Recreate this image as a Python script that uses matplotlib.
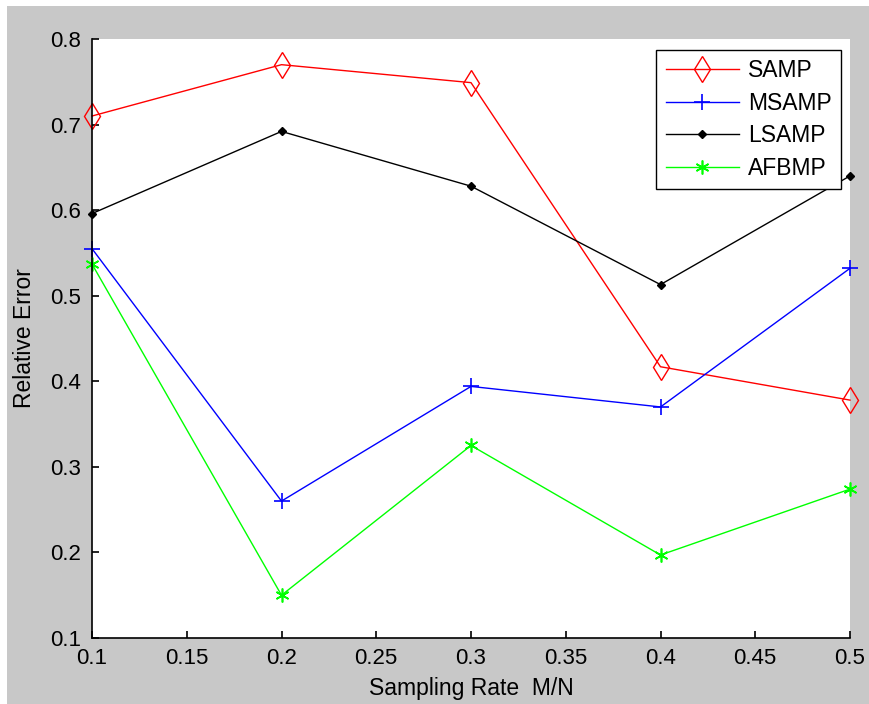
import matplotlib.pyplot as plt
from matplotlib.patches import Rectangle

plt.rcParams['font.family'] = ['Liberation Sans', 'DejaVu Sans']

# Data
rate = [0.1, 0.2, 0.3, 0.4, 0.5]
samp = [0.710, 0.770, 0.749, 0.417, 0.378]
msamp = [0.555, 0.260, 0.394, 0.370, 0.532]
lsamp = [0.596, 0.692, 0.628, 0.513, 0.640]
afbmp = [0.537, 0.150, 0.325, 0.197, 0.274]

x_ticks = [0.1, 0.15, 0.2, 0.25, 0.3, 0.35, 0.4, 0.45, 0.5]
x_tick_labels = ['0.1', '0.15', '0.2', '0.25', '0.3', '0.35', '0.4', '0.45', '0.5']
y_ticks = [0.1, 0.2, 0.3, 0.4, 0.5, 0.6, 0.7, 0.8]
y_tick_labels = ['0.1', '0.2', '0.3', '0.4', '0.5', '0.6', '0.7', '0.8']

W, H = 870, 704
fig = plt.figure(figsize=(W / 100, H / 100), dpi=100, facecolor='white')

# grey MATLAB-style figure background, thin white strip on top and left
fig.patches.append(Rectangle((7 / W, 0), 1, 1 - 6 / H, transform=fig.transFigure,
                             facecolor='#c8c8c8', edgecolor='none', zorder=-10))

ax = fig.add_axes([92 / W, (H - 638) / H, (850 - 92) / W, (638 - 39) / H])
ax.set_facecolor('white')

ax.plot(rate, samp, color='red', lw=1.0, marker='d', markersize=13,
        markerfacecolor='none', markeredgecolor='red', markeredgewidth=1.0, label='SAMP')
ax.plot(rate, msamp, color='blue', lw=1.0, marker='+', markersize=12,
        markeredgewidth=1.2, label='MSAMP')
ax.plot(rate, lsamp, color='black', lw=1.0, marker='D', markersize=4,
        label='LSAMP')
ax.plot(rate, afbmp, color='#00ff00', lw=1.0, marker=(6, 2, 0), markersize=10,
        markeredgewidth=1.2, label='AFBMP')

ax.set_xlim(0.1, 0.5)
ax.set_ylim(0.1, 0.8)
ax.set_xticks(x_ticks)
ax.set_xticklabels(x_tick_labels)
ax.set_yticks(y_ticks)
ax.set_yticklabels(y_tick_labels)

for side in ['top', 'right']:
    ax.spines[side].set_visible(False)
for side in ['left', 'bottom']:
    ax.spines[side].set_linewidth(1.2)

ax.tick_params(direction='in', length=5, width=1.2, labelsize=16)
ax.tick_params(axis='y', pad=8)
ax.tick_params(axis='x', pad=7)

ax.set_xlabel('Sampling Rate  M/N', fontsize=16.5, labelpad=6)
ax.set_ylabel('Relative Error', fontsize=16.5, labelpad=10)

for line in ax.get_lines():
    line.set_clip_on(False)

leg = ax.legend(loc='upper right', bbox_to_anchor=(841 / W, 1 - 50 / H),
                bbox_transform=fig.transFigure, fontsize=16.5, fancybox=False,
                framealpha=1, edgecolor='black', handlelength=3.2,
                handletextpad=0.4, labelspacing=0.42, borderpad=0.4,
                borderaxespad=0)
leg.get_frame().set_linewidth(1.0)

fig.savefig('out.png', dpi=100, facecolor=fig.get_facecolor())
